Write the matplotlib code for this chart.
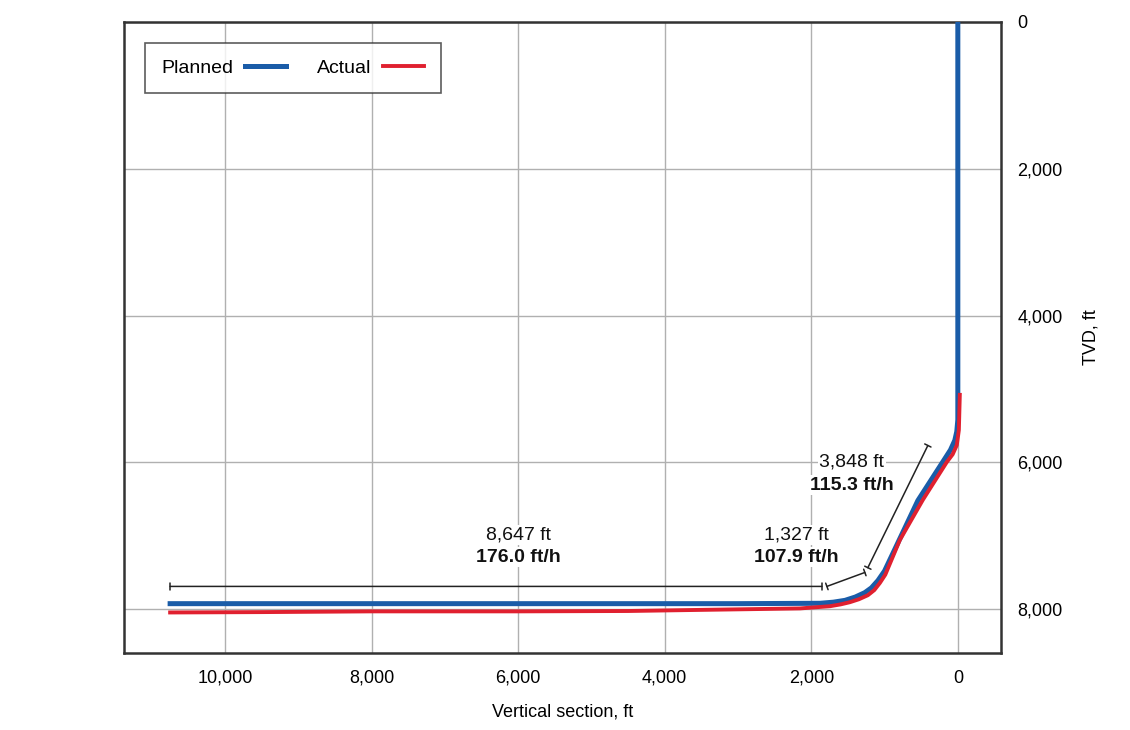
import matplotlib.pyplot as plt

# Trayectoria planificada (sección vertical, TVD) en pies
planned_vs = [0, 0, 14, 41, 100, 177, 545, 1000, 1090, 1180, 1270, 1400, 1540, 1700, 1880, 3000, 6000, 9000, 10750]
planned_tvd = [0, 5420, 5580, 5700, 5830, 5950, 6520, 7480, 7610, 7710, 7775, 7835, 7880, 7905, 7920, 7925, 7925, 7925, 7925]

# Trayectoria real
actual_vs = [-27, -14, 14, 70, 150, 477, 791, 990, 1064, 1140, 1228, 1350, 1473, 1600, 1746, 2155, 3520, 4500, 6000, 8000, 9500, 10750]
actual_tvd = [5080, 5560, 5765, 5890, 5995, 6510, 7057, 7530, 7643, 7740, 7810, 7865, 7905, 7935, 7960, 7990, 8010, 8025, 8030, 8030, 8040, 8045]

# Cotas: (inicio, fin) y etiquetas
dims = [((10750, 7690), (1855, 7690)),
        ((1787, 7690), (1269, 7500)),
        ((1228, 7435), (409, 5770))]
dim_top = ["8,647 ft", "1,327 ft", "3,848 ft"]
dim_bottom = ["176.0 ft/h", "107.9 ft/h", "115.3 ft/h"]
label_x = [6000, 2200, 1445]
label_y1 = [6990, 6990, 5995]
label_y2 = [7290, 7290, 6310]

xticks = [0, 2000, 4000, 6000, 8000, 10000]
yticks = [0, 2000, 4000, 6000, 8000]

plt.rcParams['font.family'] = ['Liberation Sans', 'DejaVu Sans']

fig = plt.figure(figsize=(11.3, 7.3), dpi=100)
ax = fig.add_axes([0.1097, 0.1055, 0.776, 0.8644])

ax.plot(planned_vs, planned_tvd, color='#1a5ca8', lw=3.6, label='Planned', zorder=3)
ax.plot(actual_vs, actual_tvd, color='#e0202f', lw=2.8, label='Actual', zorder=4)

# Líneas de cota con topes
for (a, b) in dims:
    ax.annotate('', xy=b, xytext=a,
                arrowprops=dict(arrowstyle='|-|, widthA=0.25, widthB=0.25',
                                color='#222222', lw=1.1, shrinkA=0, shrinkB=0),
                zorder=5)

for x, y1, y2, t1, t2 in zip(label_x, label_y1, label_y2, dim_top, dim_bottom):
    ax.text(x, y1, t1, ha='center', va='center', fontsize=14,
            color='#111111', zorder=6,
            bbox=dict(facecolor='white', edgecolor='none', pad=1))
    ax.text(x, y2, t2, ha='center', va='center', fontsize=14,
            fontweight='bold', color='#111111', zorder=6,
            bbox=dict(facecolor='white', edgecolor='none', pad=1))

ax.set_xlim(11380, -587)
ax.set_ylim(8597, 0)
ax.set_xticks(xticks)
ax.set_yticks(yticks)
ax.set_xticklabels([f"{v:,}" for v in xticks], fontsize=13)
ax.set_yticklabels([f"{v:,}" for v in yticks], fontsize=13)
ax.yaxis.tick_right()
ax.yaxis.set_label_position('right')
ax.tick_params(length=0, pad=12)
ax.grid(True, color='#b0b0b0', lw=1.0)
ax.set_axisbelow(True)
for s in ax.spines.values():
    s.set_color('#333333')
    s.set_linewidth(1.8)

ax.set_xlabel('Vertical section, ft', fontsize=13, labelpad=12)
ax.set_ylabel('TVD, ft', fontsize=13, rotation=90, labelpad=14)

leg = ax.legend(loc='upper left', bbox_to_anchor=(0.024, 0.967), ncol=2,
                markerfirst=False, fontsize=14, frameon=True, fancybox=False,
                handlelength=2.1, handletextpad=0.6, columnspacing=1.6,
                borderpad=0.85, borderaxespad=0)
leg.get_frame().set_edgecolor('#333333')
leg.get_frame().set_linewidth(1.2)

plt.savefig('out.png', dpi=100)
